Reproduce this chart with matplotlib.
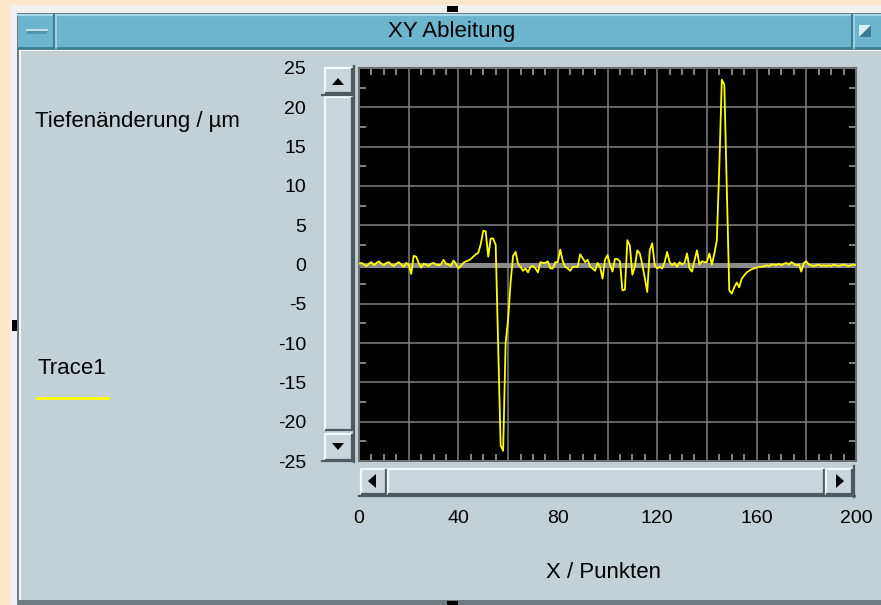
import matplotlib
matplotlib.use('Agg')
import matplotlib.pyplot as plt
from matplotlib.patches import Rectangle, Polygon
from matplotlib.ticker import MultipleLocator

plt.rcParams['font.family'] = ['Liberation Sans', 'DejaVu Sans']

# chart data
window_title = 'XY Ableitung'
y_label = 'Tiefenänderung / µm'
x_label = 'X / Punkten'
trace_name = 'Trace1'

x_points = list(range(201))
depth_change = [
    0.1, 0.2, 0.0, -0.2, 0.1, 0.3, -0.1, 0.2, 0.4, 0.1,
    -0.1, 0.2, 0.3, 0.0, -0.2, 0.1, 0.3, 0.0, -0.3, 0.2,
    0.0, -1.2, 1.1, 1.0, 0.2, -0.4, 0.1, 0.0, -0.2, 0.1,
    0.2, 0.0, -0.1, 0.0, 0.6, 0.1, 0.0, -0.2, 0.5, 0.1,
    -0.5, -0.2, 0.2, 0.4, 0.5, 0.7, 1.0, 1.3, 1.5, 2.6,
    4.3, 4.2, 1.0, 3.3, 3.3, 2.5, -10.3, -23.0, -23.7, -10.0,
    -7.0, -2.3, 1.1, 1.6, 0.1, -0.3, -0.8, -0.5, -1.0, -0.3,
    -0.2, -0.5, -1.0, 0.3, 0.2, 0.2, 0.4, -0.5, -0.5, 0.3,
    0.3, 1.9, 0.4, -0.3, -0.5, -0.8, -0.3, -0.3, -0.3, 1.3,
    0.8, 0.3, 0.6, -0.3, -0.5, -0.8, 0.2, -0.3, -1.8, 0.6,
    1.2, 0.0, -0.9, 0.7, 0.7, 0.4, -3.3, -3.2, 3.1, 2.4,
    -1.3, -0.3, 1.8, 1.4, 0.0, -1.7, -3.5, 1.8, 2.7, -0.1,
    -0.5, -0.3, -0.5, 0.3, 1.6, 0.3, -0.1, 0.2, -0.3, 0.3,
    0.0, 0.2, 1.4, -0.5, -0.9, 0.5, 1.8, 0.0, 0.4, 0.3,
    0.3, 1.4, 0.0, 1.4, 3.1, 12.5, 23.5, 22.9, 9.7, -3.3,
    -3.7, -2.9, -2.3, -2.9, -1.8, -1.4, -1.0, -0.8, -0.6, -0.5,
    -0.4, -0.3, -0.3, -0.2, -0.1, -0.2, 0.0, 0.0, -0.1, 0.1,
    -0.1, 0.1, 0.2, 0.0, 0.3, 0.1, -0.1, 0.0, -0.9, 0.2,
    0.4, 0.0, -0.1, -0.2, -0.1, 0.0, -0.2, -0.1, -0.2, -0.1,
    -0.2, 0.0, -0.1, -0.2, -0.1, 0.0, -0.1, -0.2, -0.1, 0.0,
    -0.1,
]

x_ticks = [0, 20, 40, 60, 80, 100, 120, 140, 160, 180, 200]
x_tick_labels = ['0', '', '40', '', '80', '', '120', '', '160', '', '200']
y_ticks = [-25, -20, -15, -10, -5, 0, 5, 10, 15, 20, 25]

W, H = 881, 605
fig = plt.figure(figsize=(W / 100, H / 100), dpi=100, facecolor='#fbe8c8')

# window chrome drawn in pixel coordinates
ui = fig.add_axes([0, 0, 1, 1], zorder=0)
ui.set_xlim(0, W)
ui.set_ylim(H, 0)
ui.axis('off')

face = '#c3d1d7'
btn = '#c9d5db'
light = '#f6f9fa'
dark = '#4f5a5e'


def rect(x, y, w, h, color):
    ui.add_patch(Rectangle((x, y), w, h, facecolor=color, edgecolor='none'))


def bevel(x, y, w, h, color, lw=1.6):
    rect(x, y, w, h, color)
    ui.plot([x, x, x + w], [y + h, y, y], color=light, lw=lw, solid_capstyle='butt')
    ui.plot([x, x + w, x + w], [y + h, y + h, y], color=dark, lw=lw, solid_capstyle='butt')


def tri(points, color='black'):
    ui.add_patch(Polygon(points, closed=True, facecolor=color, edgecolor='none'))


# outer frame and body
rect(10, 5, W - 10, H - 5, '#f1f2f0')
rect(17, 13, W - 17, H - 13, '#6f7b80')
rect(19, 49, W - 19, 551, light)
rect(21, 51, W - 21, 549, face)

# title bar
rect(18, 14, W - 18, 35, '#6db5cd')
ui.plot([18, W], [15, 15], color='#a6d9e7', lw=1.5)
ui.plot([18, W], [48, 48], color='#3d7d92', lw=2)
ui.plot([54, 54], [15, 48], color='#3d7d92', lw=1.5)
ui.plot([56, 56], [15, 48], color='#a6d9e7', lw=1.2)
ui.plot([852, 852], [15, 48], color='#3d7d92', lw=1.5)
ui.plot([854, 854], [15, 48], color='#a6d9e7', lw=1.2)
rect(27, 29, 20, 5, '#4f97ad')
ui.plot([27, 47], [29.5, 29.5], color='#d8f0f6', lw=1.2)
rect(859, 25, 12, 12, '#3d7d92')
tri([(859, 37), (871, 25), (859, 25)], '#d8f0f6')
fig.text(452 / W, 1 - 31 / H, window_title, ha='center', va='center', fontsize=16)

# selection handles
rect(447, 6, 11, 6, 'black')
rect(12, 320, 5, 11, 'black')
rect(447, 601, 11, 4, 'black')

# vertical scroll bar
bevel(325, 68, 27, 25, btn)
tri([(332, 85), (344, 85), (338, 78)])
bevel(325, 97, 27, 333, btn)
bevel(325, 434, 27, 26, btn)
tri([(332, 443), (344, 443), (338, 450)])
ui.plot([322, 353], [95, 95], color=dark, lw=1.6)
ui.plot([322, 353], [461, 461], color=dark, lw=1.6)
ui.plot([354, 354], [66, 462], color=dark, lw=1.6)

# horizontal scroll bar
bevel(361, 469, 25, 25, btn)
tri([(368, 481), (376, 474), (376, 488)])
bevel(388, 469, 436, 25, btn)
bevel(826, 469, 26, 25, btn)
tri([(844, 481), (836, 474), (836, 488)])
ui.plot([359, 855], [496, 496], color=dark, lw=1.6)
ui.plot([854, 854], [466, 497], color=dark, lw=1.6)

# plot area
ax = fig.add_axes([359 / W, 1 - 461 / H, 497 / W, 393 / H], zorder=2)
ax.set_facecolor('black')
ax.axhline(0, color='#8c8c8c', lw=3.6, zorder=2)
line, = ax.plot(x_points, depth_change, color='#ffff00', lw=1.3, zorder=3)
ax.set_xlim(0, 200)
ax.set_ylim(-25, 25)
ax.set_xticks(x_ticks, x_tick_labels)
ax.set_yticks(y_ticks, [str(v) for v in y_ticks])
ax.xaxis.set_minor_locator(MultipleLocator(5))
ax.yaxis.set_minor_locator(MultipleLocator(2.5))
ax.grid(True, which='major', color='#7f7f7f', lw=1.1)
ax.set_axisbelow(True)
ax.tick_params(which='major', length=0, labelsize=14, labelcolor='black')
ax.tick_params(axis='x', which='major', pad=35)
ax.tick_params(axis='y', which='major', pad=38)
ax.tick_params(which='minor', direction='in', length=5, width=1.1,
               color='#a8a8a8', top=True, right=True)
for s in ax.spines.values():
    s.set_color('#6e6e6e')
    s.set_linewidth(1.5)

ax.set_ylabel(y_label, rotation=0, fontsize=16, ha='left', va='center')
ax.yaxis.set_label_coords((35 - 359) / 497, (461 - 121) / 393)
ax.set_xlabel(x_label, fontsize=16, va='center')
ax.xaxis.set_label_coords((603 - 359) / 497, (461 - 572) / 393)

leg = ax.legend([line], [''], title=trace_name, title_fontsize=16, fontsize=16,
                loc='upper left', bbox_to_anchor=(37 / W, 1 - 358 / H),
                bbox_transform=fig.transFigure, frameon=False, borderpad=0,
                borderaxespad=0, handlelength=3.2, labelspacing=0.5,
                alignment='left')
leg.legend_handles[0].set_linewidth(2)

fig.savefig('out.png', dpi=100, facecolor=fig.get_facecolor())
